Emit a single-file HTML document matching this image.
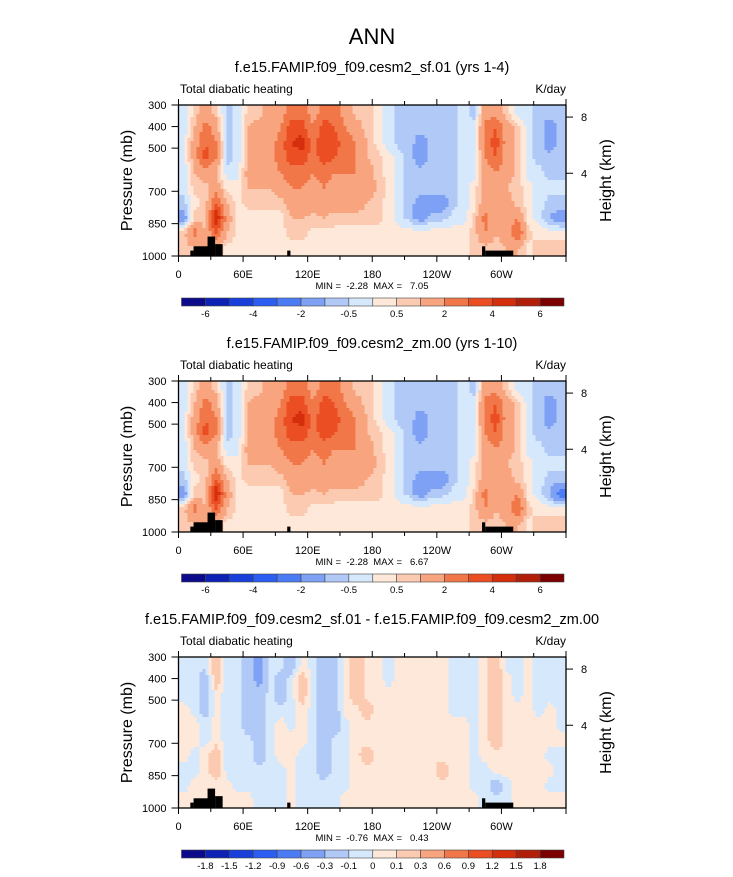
<!DOCTYPE html>
<html><head><meta charset="utf-8">
<style>
html,body{margin:0;padding:0;background:#fff;}
svg text{font-family:"Liberation Sans",Arial,sans-serif;fill:#000;}
</style></head>
<body>
<svg id="fig" width="733" height="872" viewBox="0 0 733 872" xmlns="http://www.w3.org/2000/svg">
<defs></defs>
<text x="372" y="44" font-size="22" text-anchor="middle">ANN</text>
</svg>
<script>
// ---- data ----
const lons = [0,10,20,30,40,50,60,70,80,90,100,110,120,130,140,150,160,170,180,190,200,210,220,230,240,250,260,270,280,290,300,310,320,330,340,350];
const xTickLabels = ["0","60E","120E","180","120W","60W"];
const xTickLons = [0,60,120,180,240,300];
const pTickLabels = ["300","400","500","700","850","1000"];
const pTickValues = [300,400,500,700,850,1000];
const hTickLabels = ["8","4"];
const hTickValues = [8,4];
const levels1 = [-6,-5,-4,-3,-2,-1,-0.5,0,0.5,1,2,3,4,5,6];
const levelLabels1 = ["-6","","-4","","-2","","-0.5","","0.5","","2","","4","","6"];
const levels3 = [-1.8,-1.5,-1.2,-0.9,-0.6,-0.3,-0.1,0,0.1,0.3,0.6,0.9,1.2,1.5,1.8];
const levelLabels3 = ["-1.8","-1.5","-1.2","-0.9","-0.6","-0.3","-0.1","0","0.1","0.3","0.6","0.9","1.2","1.5","1.8"];
const colors = ["#0c0a8a","#0d22b4","#1a40dc","#2c5ef2","#4c7cf5","#7ea0f5","#b0c9f7","#d6e8fb","#fde8da","#fbcab0","#f8a47e","#f27748","#ea4e22","#d52e0c","#b11f0b","#7d0000"];
const stats = [["-2.28","7.05"],["-2.28","6.67"],["-0.76","0.43"]];
const titles = ["f.e15.FAMIP.f09_f09.cesm2_sf.01 (yrs 1-4)","f.e15.FAMIP.f09_f09.cesm2_zm.00 (yrs 1-10)","f.e15.FAMIP.f09_f09.cesm2_sf.01 - f.e15.FAMIP.f09_f09.cesm2_zm.00"];
const field1 = [
[-0.3,0.7,1.5,0.7,-0.7,-0.3,0.7,0.7,1.5,1.5,2.5,2.5,1.5,2.5,2.5,1.5,0.7,0.7,0.3,-0.3,-0.7,-0.7,-0.7,-0.7,-0.7,-0.7,-0.3,-0.7,1.5,1.5,0.7,-0.3,-0.3,-0.7,-0.7,-0.7],
[-0.3,1,2.5,1.5,-0.7,-0.3,1,1.5,1.5,2,3.5,3.5,2,3.5,3,2,1.5,0.7,0.3,-0.3,-0.7,-0.7,-0.7,-0.7,-0.7,-0.7,-0.3,-0.3,2.5,3,1.5,0.7,-0.3,-0.7,-1.5,-0.7],
[-0.3,1.5,3,2,-0.7,-0.3,1,1.5,1.5,2.5,4,4.5,2.5,4,3.5,2.5,2,1,0.3,-0.3,-0.7,-0.7,-1.5,-0.7,-0.7,-0.7,-0.3,-0.3,2.5,3.5,1.5,0.7,-0.3,-0.7,-1.5,-0.7],
[-0.3,1.5,3.5,2,-0.7,-0.3,1,1.5,1.5,2.5,3.5,3.5,2.5,3.5,3,2.5,2,1,0.7,0.3,-0.3,-0.7,-1.5,-0.7,-0.7,-0.7,-0.3,-0.3,2,3,1.5,0.7,-0.3,-0.7,-0.7,-0.7],
[-0.3,1,1.5,1,-0.3,-0.3,1.5,1.5,1.5,2,2.5,2.5,2,2.5,2,2,2,1.5,0.7,0.3,-0.3,-0.7,-0.7,-0.7,-0.7,-0.7,-0.3,-0.3,1.5,2,1.5,0.7,-0.3,-0.3,-0.7,-0.7],
[-0.3,0.7,0.7,1.5,0.3,0.3,1,1,1,1.5,2,2,1.5,2,1.5,1.5,1.5,1.5,1,0.3,-0.3,-0.7,-0.7,-0.7,-0.7,-0.7,-0.3,0.3,1.5,1.5,1,0.7,0.3,-0.3,-0.3,-0.3],
[-0.7,0.3,0.7,3,1,0.3,0.7,0.7,0.7,0.7,1.5,2,1.5,1.5,1.5,1.5,1.5,1,0.7,0.3,-0.3,-0.7,-1.5,-1.5,-1.5,-0.7,-0.3,0.3,1.5,1.5,1.5,0.7,0.3,-0.3,-0.7,-0.7],
[-1.5,0.7,0.7,5,1.5,0.3,0.3,0.3,0.3,0.3,1,1,0.7,1,0.7,0.7,0.7,0.7,0.7,0.3,-0.3,-0.7,-1.5,-0.7,-0.7,-0.3,-0.3,0.7,2.5,1,1.5,2,0.3,-0.3,-1,-1.5],
[0.7,2.5,1,3,1,0.3,0.3,0.3,0.3,0.3,0.7,0.7,0.3,0.3,0.3,0.3,0.3,0.3,0.3,0.3,0.3,0.3,0.3,0.3,0.3,0.3,0.3,0.7,2,1,1.5,3,0.7,0.3,0.3,0.3],
[0.7,1,1,1,0.3,0.3,0.3,0.3,0.3,0.3,0.3,0.3,0.3,0.3,0.3,0.3,0.3,0.3,0.3,0.3,0.3,0.3,0.3,0.3,0.3,0.3,0.3,0.7,0.7,0.7,1,1,0.3,0.7,0.7,0.7]];
const field2 = [
[-0.3,0.7,1.5,0.7,-0.7,-0.3,0.7,0.7,1.5,1.5,2.5,2.5,1.5,2.5,2.5,1.5,0.7,0.7,0.3,-0.3,-0.7,-0.7,-0.7,-0.7,-0.7,-0.7,-0.3,-0.7,1.5,1.5,0.7,-0.3,-0.3,-0.7,-0.7,-0.7],
[-0.3,1,2.5,1.5,-0.7,-0.3,1,1.5,1.5,2,3.5,3.5,2,3.5,3,2,1.5,0.7,0.3,-0.3,-0.7,-0.7,-0.7,-0.7,-0.7,-0.7,-0.3,-0.3,2.5,3,1.5,0.7,-0.3,-0.7,-1.5,-0.7],
[-0.3,1.5,3,2,-0.7,-0.3,1,1.5,1.5,2.5,4,4.5,2.5,4,3.5,2.5,2,1,0.3,-0.3,-0.7,-0.7,-1.5,-0.7,-0.7,-0.7,-0.3,-0.3,2.5,3.5,1.5,0.7,-0.3,-0.7,-1.5,-0.7],
[-0.3,1.5,3.5,2,-0.7,-0.3,1,1.5,1.5,2.5,3.5,3.5,2.5,3.5,3,2.5,2,1,0.7,0.3,-0.3,-0.7,-1.5,-0.7,-0.7,-0.7,-0.3,-0.3,2,3,1.5,0.7,-0.3,-0.7,-0.7,-0.7],
[-0.3,1,1.5,1,-0.3,-0.3,1.5,1.5,1.5,2,2.5,2.5,2,2.5,2,2,2,1.5,0.7,0.3,-0.3,-0.7,-0.7,-0.7,-0.7,-0.7,-0.3,-0.3,1.5,2,1.5,0.7,-0.3,-0.3,-0.7,-0.7],
[-0.3,0.7,0.7,1.5,0.3,0.3,1,1,1,1.5,2,2,1.5,2,1.5,1.5,1.5,1.5,1,0.3,-0.3,-0.7,-0.7,-0.7,-0.7,-0.7,-0.3,0.3,1.5,1.5,1,0.7,0.3,-0.3,-0.3,-0.3],
[-0.7,0.3,0.7,3,1,0.3,0.7,0.7,0.7,0.7,1.5,2,1.5,1.5,1.5,1.5,1.5,1,0.7,0.3,-0.3,-0.7,-1.5,-1.5,-1.5,-0.7,-0.3,0.3,1.5,1.5,1.5,0.7,0.3,-0.3,-0.7,-0.7],
[-1.5,0.7,0.7,5,1.5,0.3,0.3,0.3,0.3,0.3,1,1,0.7,1,0.7,0.7,0.7,0.7,0.7,0.3,-0.3,-0.7,-1.5,-0.7,-0.7,-0.3,-0.3,0.7,2.5,1,1.5,2,0.3,-0.3,-1,-2.5],
[0.7,2.5,1,3,1,0.3,0.3,0.3,0.3,0.3,0.7,0.7,0.3,0.3,0.3,0.3,0.3,0.3,0.3,0.3,0.3,0.3,0.3,0.3,0.3,0.3,0.3,0.7,2,1,1.5,3,0.7,0.3,0.3,0.3],
[0.7,1,1,1,0.3,0.3,0.3,0.3,0.3,0.3,0.3,0.3,0.3,0.3,0.3,0.3,0.3,0.3,0.3,0.3,0.3,0.3,0.3,0.3,0.3,0.3,0.3,0.7,0.7,0.7,1,1,0.3,0.7,0.7,0.7]];
const field3 = [
[-0.05,-0.05,-0.05,0.2,-0.05,-0.05,-0.2,-0.4,-0.05,-0.05,-0.2,0.05,-0.05,-0.2,-0.2,0.05,0.2,0.05,0.05,-0.05,0.05,0.05,0.05,0.05,0.05,-0.05,-0.05,-0.05,0.05,0.2,-0.05,-0.05,0.05,-0.05,-0.05,-0.05],
[-0.05,-0.05,-0.2,0.2,-0.05,-0.05,-0.2,-0.4,-0.05,-0.2,-0.05,0.2,-0.05,-0.2,-0.2,0.05,0.2,0.05,0.05,-0.05,0.05,0.05,0.05,0.05,0.05,-0.05,-0.05,-0.05,0.05,0.2,0.05,-0.05,0.05,-0.05,-0.05,-0.05],
[-0.05,-0.05,-0.2,0.05,-0.05,-0.05,-0.2,-0.2,-0.05,-0.2,-0.05,0.2,-0.05,-0.2,-0.2,0.05,0.2,0.05,0.05,0.05,0.05,0.05,0.05,0.05,0.05,-0.05,-0.05,-0.05,0.05,0.2,0.05,-0.05,0.05,-0.05,-0.05,-0.05],
[0.05,-0.05,-0.2,0.05,-0.05,-0.05,-0.2,-0.2,-0.05,-0.05,-0.05,0.05,-0.05,-0.2,-0.2,0.05,0.05,0.2,0.05,0.05,0.05,0.05,0.05,0.05,0.05,-0.05,-0.05,-0.05,0.05,0.2,0.05,0.05,0.05,-0.05,0.05,-0.05],
[0.05,0.05,-0.05,0.05,-0.05,-0.05,-0.2,-0.2,-0.05,0.05,-0.05,0.05,-0.05,-0.2,-0.2,-0.05,0.05,0.05,0.05,0.05,0.05,0.05,0.05,0.05,0.05,0.05,0.05,-0.05,0.05,0.2,0.05,0.05,0.05,0.05,0.05,-0.05],
[0.05,0.05,-0.05,0.05,-0.05,-0.05,-0.05,-0.2,-0.05,0.05,0.05,0.05,-0.05,-0.2,-0.05,-0.05,0.05,0.05,0.05,0.05,0.05,0.05,0.05,0.05,0.05,0.05,0.05,-0.05,0.05,0.2,0.05,0.05,0.05,0.05,0.05,0.05],
[0.05,-0.05,0.05,0.2,-0.05,-0.05,-0.05,-0.2,-0.05,0.05,0.05,-0.05,-0.05,-0.2,-0.05,-0.05,0.05,0.2,0.05,0.05,0.05,0.05,0.05,0.05,0.05,0.05,0.05,-0.05,0.05,0.05,0.05,0.05,0.05,0.05,-0.05,-0.05],
[-0.05,-0.05,0.05,0.2,-0.05,-0.05,-0.05,-0.05,-0.05,-0.05,0.05,-0.05,-0.05,-0.2,-0.05,-0.05,0.05,0.05,0.05,0.05,0.05,0.05,0.05,0.05,0.2,0.05,0.05,-0.05,-0.05,0.05,0.05,0.05,0.05,0.05,0.05,-0.05],
[-0.05,0.05,0.05,0.05,0.05,-0.05,-0.05,-0.05,-0.05,-0.05,0.05,-0.05,-0.05,-0.05,-0.05,-0.05,0.05,0.05,0.05,0.05,0.05,0.05,0.05,0.05,0.05,0.05,0.05,-0.05,-0.05,-0.2,-0.05,0.05,0.05,0.05,-0.05,-0.05],
[0.05,0.05,0.05,0.05,0.05,0.05,0.05,-0.05,-0.05,-0.05,0.05,-0.05,-0.05,-0.05,-0.05,0.05,0.05,0.05,0.05,0.05,0.05,0.05,0.05,0.05,0.05,0.05,0.05,0.05,-0.05,-0.05,-0.05,0.05,0.05,0.05,0.05,0.05]];
// topography: [lon0, lon1, pressure top]
const topoLon0 = [11,14,27,34,101,282,285];
const topoLon1 = [14,28,34,41,104,285,311];
const topoTop = [975,955,910,945,975,955,975];

// ---- drawing ----
const NS = "http://www.w3.org/2000/svg";
const svg = document.getElementById("fig");
const X0 = 178.5, X1 = 566, PH = 151;
function mk(tag, attrs, parent){const e=document.createElementNS(NS,tag);for(const k in attrs)e.setAttribute(k,attrs[k]);(parent||svg).appendChild(e);return e;}
function xScale(lon){return X0 + lon*(X1-X0)/360;}
function pScale(p, top){return top + (p-300)/700*PH;}
function hScale(h, top){ // standard atmosphere
  const p = 1013.25*Math.pow(1-0.0065*h*1000/288.15,5.2559); return pScale(p, top);}
function colorFor(v, lev){let i=0;while(i<lev.length && v>=lev[i])i++;return colors[i];}
function sample(field, fx, fy){ // bilinear at fractional cell coords
  const nR=field.length, nC=field[0].length;
  fx=Math.max(0,Math.min(nC-1,fx)); fy=Math.max(0,Math.min(nR-1,fy));
  const c0=Math.floor(fx), r0=Math.floor(fy), c1=Math.min(nC-1,c0+1), r1=Math.min(nR-1,r0+1);
  const ax=fx-c0, ay=fy-r0;
  const top=field[r0][c0]*(1-ax)+field[r0][c1]*ax, bot=field[r1][c0]*(1-ax)+field[r1][c1]*ax;
  return top*(1-ay)+bot*ay;
}

const panels = [
 {top:105, field:field1, lev:levels1, labs:levelLabels1},
 {top:381, field:field2, lev:levels1, labs:levelLabels1},
 {top:657, field:field3, lev:levels3, labs:levelLabels3}];

panels.forEach((P, pi) => {
  const T = P.top, B = T + PH;
  const g = mk("g", {});
  
  
  const t = mk("text",{x:372,y:T-33,"font-size":14.5,"text-anchor":"middle"},g); t.textContent = titles[pi];
  
  
  const l = mk("text",{x:180,y:T-12,"font-size":12},g); l.textContent="Total diabatic heating";
  
  
  const u = mk("text",{x:566,y:T-12,"font-size":12,"text-anchor":"end"},g); u.textContent="K/day";
  
  
  const fg = mk("g",{},g);
  
  
  const nR = P.field.length, nC = lons.length;
  const cw = (X1-X0)/nC, rh = PH/nR;
  const S = 3;
  function flush(x0, x1, y, h, col){
    const rc = mk("rect",{x:x0,y:y,width:x1-x0+0.4,height:h+0.4,fill:col},fg);
    
    
  }
  for (let y=T; y<B; y+=S){
    const h = Math.min(S, B-y);
    const fy = (y+h/2-T)/rh - 0.5;
    let runStart = X0, runColor = null;
    for (let x=X0; x<X1; x+=S){
      const fx = (Math.min(x+S/2,X1)-X0)/cw - 0.5;
      const col = colorFor(sample(P.field, fx, fy), P.lev);
      if (col !== runColor){
        if (runColor) flush(runStart, x, y, h, runColor);
        runStart = x; runColor = col;
      }
    }
    if (runColor) flush(runStart, X1, y, h, runColor);
  }
  topoLon0.forEach((a,i)=>{
    const y = pScale(topoTop[i], T);
    const tr = mk("rect",{x:xScale(a),y:y,width:xScale(topoLon1[i])-xScale(a),height:B-y,fill:"#000"},fg);
    
    
  });
  const fr = mk("rect",{x:X0,y:T,width:X1-X0,height:PH,fill:"none",stroke:"#000","stroke-width":1.3},g);
  
  
  for (let lon=0; lon<=360; lon+=30){
    const x = xScale(lon), major = lon%60===0, len = major?6:4;
    mk("line",{x1:x,x2:x,y1:B,y2:B+len,stroke:"#000","stroke-width":1},g);
    mk("line",{x1:x,x2:x,y1:T,y2:T-len,stroke:"#000","stroke-width":1},g);
  }
  xTickLons.forEach((lon,i)=>{
    const tx = mk("text",{x:xScale(lon),y:B+22,"font-size":11,"text-anchor":"middle"},g); tx.textContent=xTickLabels[i];
    
    
  });
  pTickValues.forEach((p,i)=>{
    const y = pScale(p,T);
    mk("line",{x1:X0-7,x2:X0,y1:y,y2:y,stroke:"#000","stroke-width":1},g);
    const ty = mk("text",{x:X0-12,y:y+4,"font-size":11,"text-anchor":"end"},g); ty.textContent=pTickLabels[i];
    
    
  });
  hTickValues.forEach((h,i)=>{
    const y = hScale(h,T);
    mk("line",{x1:X1,x2:X1+7,y1:y,y2:y,stroke:"#000","stroke-width":1},g);
    const th = mk("text",{x:X1+15,y:y+4,"font-size":11},g); th.textContent=hTickLabels[i];
    
    
  });
  const ya = mk("text",{x:0,y:0,"font-size":16,"text-anchor":"middle",transform:`translate(132,${T+PH/2}) rotate(-90)`},g); ya.textContent="Pressure (mb)";
  
  
  const ya2 = mk("text",{x:0,y:0,"font-size":16,"text-anchor":"middle",transform:`translate(611,${T+PH/2}) rotate(-90)`},g); ya2.textContent="Height (km)";
  
  
  const mm = mk("text",{x:372,y:B+33,"font-size":9.5,"text-anchor":"middle",style:"white-space:pre"},g);
  mm.textContent = "MIN =  "+stats[pi][0]+"  MAX =   "+stats[pi][1];
  
  
  const cbY = B+42, cbX0 = 181.5, cbW = (564-181.5)/colors.length;
  const cb = mk("g",{},g);
  
  
  colors.forEach((c,i)=>{
    const r = mk("rect",{x:cbX0+i*cbW,y:cbY,width:cbW,height:8,fill:c,stroke:"#444","stroke-width":0.6},cb);
    
    
  });
  P.labs.forEach((s,i)=>{
    if(!s) return;
    const tl = mk("text",{x:cbX0+(i+1)*cbW,y:cbY+19,"font-size":9.5,"text-anchor":"middle"},cb); tl.textContent=s;
    
    
  });
});
</script>
</body></html>
